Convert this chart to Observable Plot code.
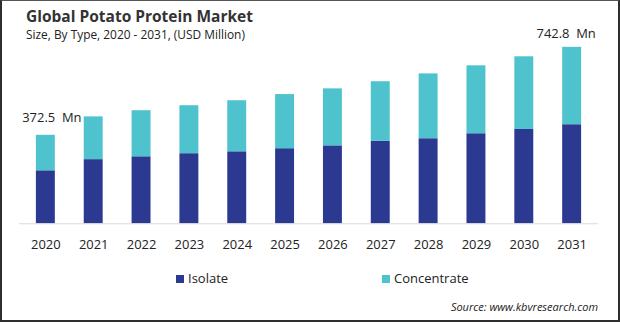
<!DOCTYPE html>
<html>
<head>
<meta charset="utf-8">
<script src="https://cdn.jsdelivr.net/npm/d3@7"></script>
<script src="https://cdn.jsdelivr.net/npm/@observablehq/plot@0.6"></script>
<style>
  html, body { margin: 0; padding: 0; background: #fff; }
  #wrap { position: relative; width: 620px; height: 322px; box-sizing: border-box;
          border: 2px solid #2e2e2e; border-top: 1px solid #555; overflow: hidden;
          font-family: "Open Sans", sans-serif; background: #fff; }
  #chart { position: absolute; left: -2px; top: -1px; }
  .title { position: absolute; left: 24px; top: 4px; font-size: 15.5px; font-weight: 700; color: #333; white-space: nowrap; }
  .subtitle { position: absolute; left: 24px; top: 25px; font-size: 11.9px; color: #222; white-space: nowrap; }
  .legend { position: absolute; top: 268px; font-size: 13px; color: #222; white-space: nowrap; }
  .legend span.sw { display: inline-block; width: 8px; height: 8px; margin-right: 4px; vertical-align: 0px; }
  .source { position: absolute; right: 20px; top: 298px; font-size: 11px; font-style: italic; color: #222; white-space: nowrap; }
</style>
</head>
<body>
<div id="wrap">
  <div id="chart"></div>
  <div class="title">Global Potato Protein Market</div>
  <div class="subtitle">Size, By Type, 2020 - 2031, (USD Million)</div>
  <div class="legend" id="leg1" style="left:174px"></div>
  <div class="legend" id="leg2" style="left:380px"></div>
  <div class="source">Source: www.kbvresearch.com</div>
</div>
<script>
const years = ["2020","2021","2022","2023","2024","2025","2026","2027","2028","2029","2030","2031"];
const isolate     = [223, 270, 282, 295, 303, 316, 328, 347, 358, 379, 397, 417];
const concentrate = [149.5, 180, 194, 202, 215, 228, 240, 251, 273, 286, 306, 325.8];
const seriesNames = ["Isolate", "Concentrate"];
const seriesColors = ["#2b3990", "#4fc3cd"];
const labelYears = ["2020", "2031"];
const labelTexts = ["372.5\u00a0 Mn", "742.8\u00a0 Mn"];

const rows = [];
years.forEach((y, i) => {
  rows.push({year: y, type: seriesNames[0], value: isolate[i]});
  rows.push({year: y, type: seriesNames[1], value: concentrate[i]});
});
const totals = years.map((y, i) => ({year: y, total: isolate[i] + concentrate[i]}));
const first = [{year: labelYears[0], total: totals[0].total, text: labelTexts[0]}];
const last = [{year: labelYears[1], total: totals[totals.length - 1].total, text: labelTexts[1]}];

const plot = Plot.plot({
  width: 620,
  height: 258,
  marginLeft: 5,
  marginRight: 5,
  marginTop: 47,
  marginBottom: 34,
  x: {domain: years, padding: 0.6, label: null, tickSize: 0, tickPadding: 16},
  y: {domain: [0, 742.8], axis: null},
  color: {domain: seriesNames, range: seriesColors},
  style: {fontFamily: "Open Sans, sans-serif", fontSize: "13px", color: "#222", background: "transparent"},
  marks: [
    Plot.barY(rows, Plot.stackY({x: "year", y: "value", fill: "type", order: seriesNames})),
    Plot.ruleY([0], {stroke: "#d9d9d9", strokeWidth: 1, insetLeft: 14, insetRight: 15}),
    Plot.text(first, {x: "year", y: "total", text: "text", dx: 6, dy: -18, fill: "#222", fontSize: 13}),
    Plot.text(last, {x: "year", y: "total", text: "text", dx: -6, dy: -14, fill: "#222", fontSize: 13})
  ]
});
document.getElementById("chart").appendChild(plot);

document.getElementById("leg1").innerHTML = `<span class="sw" style="background:${seriesColors[0]}"></span>${seriesNames[0]}`;
document.getElementById("leg2").innerHTML = `<span class="sw" style="background:${seriesColors[1]}"></span>${seriesNames[1]}`;
</script>
</body>
</html>
